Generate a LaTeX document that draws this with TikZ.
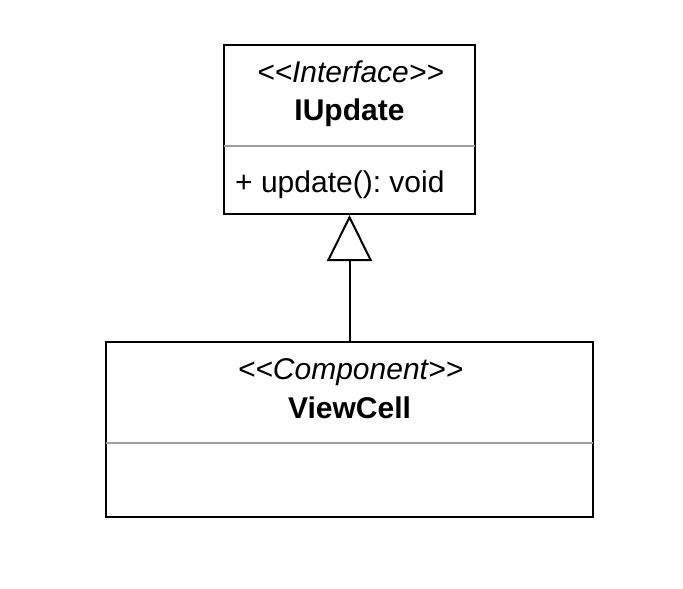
\documentclass[tikz,border=0pt]{standalone}
\usepackage{fontspec}
\setmainfont{Liberation Sans}[Ligatures=TeXOff]
\usetikzlibrary{arrows.meta}
\frenchspacing
\tikzset{
  umlbox/.style={draw=black, line width=2pt, fill=white, rectangle, inner sep=0pt},
  sepline/.style={draw=black!38, line width=1.5pt},
  txt/.style={anchor=base, inner sep=0pt, font=\fontsize{30}{36}\selectfont},
  gen/.style={line width=2pt, -{Triangle[open, length=46pt, width=45pt, line width=2pt]}}
}
\begin{document}
\begin{tikzpicture}[x=1pt,y=-1pt]
\useasboundingbox (0,0) rectangle (683,589);
\fill[white] (0,0) rectangle (683,589);
% boxes
\node[umlbox, minimum width=251pt, minimum height=169pt] (iu) at (349.5,129.5) {};
\node[umlbox, minimum width=487pt, minimum height=175pt] (vc) at (349.5,429.5) {};
% separators
\coordinate (s1a) at (224,146);
\coordinate (s1b) at (475,146);
\coordinate (s2a) at (106,443);
\coordinate (s2b) at (593,443);
\draw[sepline] (s1a) -- (s1b);
\draw[sepline] (s2a) -- (s2b);
% texts
\node[txt] (iust) at (350.5,82) {\textit{<<Interface>>}};
\node[txt] (iuname) at (349.5,120) {\textbf{IUpdate}};
\node[txt, anchor=base west] (iuop) at (235,192) {+ update(): void};
\node[txt] (vcst) at (350.5,379) {\textit{<<Component>>}};
\node[txt] (vcname) at (349.5,418) {\textbf{ViewCell}};
% generalization
\draw[gen] (vc.north) -- (iu.south);
\end{tikzpicture}
\end{document}
